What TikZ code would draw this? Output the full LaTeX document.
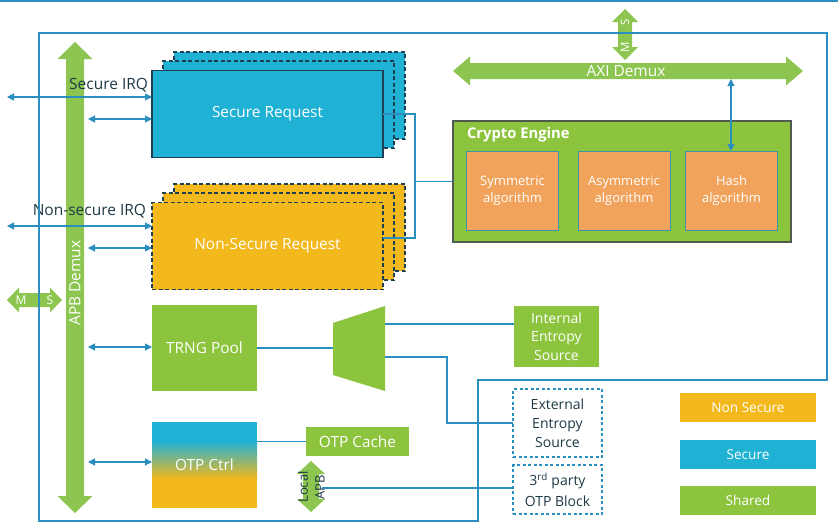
\documentclass[tikz,border=0pt]{standalone}
\usepackage{fontspec}
\setmainfont{Open Sans}
\usetikzlibrary{arrows.meta,calc}
\definecolor{sblue}{HTML}{1FB2D5}
\definecolor{nsorange}{HTML}{F3B81C}
\definecolor{shgreen}{HTML}{8DC43E}
\definecolor{argreen}{HTML}{8CC650}
\definecolor{lblue}{HTML}{2A8EBF}
\definecolor{algo}{HTML}{F2A35B}
\definecolor{darkb}{HTML}{1C3F52}
\definecolor{cebord}{HTML}{505A50}
\definecolor{algob}{HTML}{3F95A8}
\definecolor{txtd}{HTML}{1E3945}
\newcommand\myfatH[6]{\fill[argreen] (#1,#3) -- ({#1+#6},{#3-#5}) -- ({#1+#6},{#3-#4}) -- ({#2-#6},{#3-#4}) -- ({#2-#6},{#3-#5}) -- (#2,#3) -- ({#2-#6},{#3+#5}) -- ({#2-#6},{#3+#4}) -- ({#1+#6},{#3+#4}) -- ({#1+#6},{#3+#5}) -- cycle;}
\newcommand\myfatV[6]{\fill[argreen] (#3,#1) -- ({#3-#5},{#1+#6}) -- ({#3-#4},{#1+#6}) -- ({#3-#4},{#2-#6}) -- ({#3-#5},{#2-#6}) -- (#3,#2) -- ({#3+#5},{#2-#6}) -- ({#3+#4},{#2-#6}) -- ({#3+#4},{#1+#6}) -- ({#3+#5},{#1+#6}) -- cycle;}
\begin{document}
\begin{tikzpicture}[x=1pt,y=-1pt,
  every node/.style={inner sep=0pt, outer sep=0pt},
  lbl/.style={text=white, align=center, font=\fontsize{15.4}{18}\selectfont},
  wire/.style={draw=lblue, line width=1.1pt},
  biarrow/.style={wire, {Triangle[length=7pt,width=7pt]}-{Triangle[length=7pt,width=7pt]}},
  reqbox/.style={minimum width=231pt, minimum height=87pt, draw=darkb, line width=1.2pt},
  backbox/.style={reqbox, dash pattern=on 4pt off 2.5pt},
  greenbox/.style={fill=shgreen, lbl},
  algobox/.style={fill=algo, draw=algob, line width=1pt, minimum width=92pt, minimum height=79pt, lbl, font=\fontsize{13}{17}\selectfont},
  extbox/.style={draw=lblue, line width=1.1pt, dash pattern=on 3pt off 2.5pt, minimum width=89pt, align=center, text=txtd, font=\fontsize{14}{19}\selectfont},
  legbox/.style={minimum width=136pt, minimum height=29pt, lbl, font=\fontsize{13.6}{16}\selectfont},
  dtxt/.style={text=txtd, font=\fontsize{15.5}{18}\selectfont}
]
\useasboundingbox (0,0) rectangle (838,525);
\draw[lblue, line width=1.2pt] (0,1) -- (838,1);

% fat bus arrows
\myfatV{42}{513}{75}{9}{17.5}{17}
\node[lbl, rotate=90] (apb) at (75,283) {APB Demux};
\myfatH{453}{803}{71}{8}{14.5}{17}
\node[lbl] (axi) at (626,71) {AXI Demux};
\myfatH{7}{62}{300}{7}{12.5}{12}
\node[text=white, font=\fontsize{12}{14}\selectfont] (lm) at (21,300) {M};
\node[text=white, font=\fontsize{12}{14}\selectfont] (ls) at (50,300) {S};
\myfatV{9}{60}{625}{7}{13}{13}
\node[text=white, rotate=90, font=\fontsize{11.5}{13}\selectfont] (tm) at (625,47) {M};
\node[text=white, rotate=90, font=\fontsize{11.5}{13}\selectfont] (ts) at (625,22) {S};
\myfatV{461}{512}{311}{8}{14}{13}
\node[dtxt, rotate=90, font=\fontsize{13}{15}\selectfont] (loc) at (303,487) {Local};
\node[dtxt, rotate=90, font=\fontsize{13}{15}\selectfont] (lapbt) at (320,487) {APB};

% request stacks
\node[backbox, fill=sblue] (sr3) at (289.5,95.5) {};
\node[backbox, fill=sblue] (sr2) at (278.5,104.5) {};
\node[reqbox, fill=sblue, lbl] (sr) at (267.5,114) {Secure Request};
\node[backbox, fill=nsorange] (ns3) at (289.5,227.5) {};
\node[backbox, fill=nsorange] (ns2) at (278.5,236.5) {};
\node[backbox, fill=nsorange, lbl] (ns) at (267.5,246) {Non-Secure Request};

% crypto engine
\node[fill=shgreen, draw=cebord, line width=1.5pt, minimum width=338pt, minimum height=121pt] (ce) at (622,181.5) {};
\node[anchor=west, text=white, font=\bfseries\fontsize{14.8}{17}\selectfont] (cet) at (467,135) {Crypto Engine};
\node[algobox] (sym) at (512.5,190.5) {Symmetric\\algorithm};
\node[algobox] (asym) at (624,190.5) {Asymmetric\\algorithm};
\node[algobox] (hash) at (731.5,190.5) {Hash\\algorithm};

% TRNG, OTP
\node[greenbox, minimum width=105pt, minimum height=86pt] (trng) at (204.5,348) {TRNG Pool};
\fill[sblue] (152,422) rectangle (257,441);
\shade[top color=sblue, bottom color=nsorange] (152,441) rectangle (257,479);
\fill[nsorange] (152,479) rectangle (257,508);
\node[lbl, minimum width=105pt, minimum height=86pt] (otp) at (204.5,465) {OTP Ctrl};
\node[greenbox, minimum width=103pt, minimum height=29pt] (cache) at (357.5,441.5) {OTP Cache};
\fill[shgreen] (333,323) -- (385,306) -- (385,391) -- (333,375) -- cycle;
\coordinate (muxin) at (333,348);
\coordinate (muxo1) at (385,324);
\coordinate (muxo2) at (385,357);
\node[greenbox, minimum width=85pt, minimum height=61pt, font=\fontsize{14}{18.5}\selectfont] (ie) at (556.5,336.5) {Internal\\Entropy\\Source};
\node[extbox, minimum height=68pt] (ee) at (557.5,423) {External\\Entropy\\Source};
\node[extbox, minimum height=49pt, font=\fontsize{14}{21}\selectfont] (tp) at (557.5,489.5) {3\textsuperscript{rd} party\\OTP Block};

% legend
\node[legbox, fill=nsorange] (lg1) at (748,407.5) {Non Secure};
\node[legbox, fill=sblue] (lg2) at (748,454.5) {Secure};
\node[legbox, fill=shgreen] (lg3) at (748,500.5) {Shared};

% IRQ labels
\node[dtxt, anchor=east] (sirq) at (148,85) {Secure IRQ};
\node[dtxt, anchor=east] (nirq) at (146,211) {Non-secure IRQ};

% connectors
\coordinate (a1) at (7,97);
\coordinate (a2) at (88,119);
\coordinate (a3) at (7,226);
\coordinate (a4) at (88,248);
\coordinate (a5) at (88,347);
\coordinate (a6) at (88,462);
\draw[biarrow] (a1) -- (a1 -| sr.west);
\draw[biarrow] (a2) -- (a2 -| sr.west);
\draw[biarrow] (a3) -- (a3 -| ns.west);
\draw[biarrow] (a4) -- (a4 -| ns.west);
\draw[biarrow] (a5) -- (a5 -| trng.west);
\draw[biarrow] (a6) -- (a6 -| otp.west);
\coordinate (axib) at (731,79);
\draw[biarrow] (axib) -- (axib |- hash.north);
\coordinate (jn) at (415,181.5);
\draw[wire] (sr.east) -| (jn) |- ($(ns.east)+(0,-8)$);
\draw[wire] (jn) -- (ce.west);
\draw[wire] (trng.east) -- (muxin);
\draw[wire] (muxo1) -- (muxo1 -| ie.west);
\draw[wire] (muxo2) -| (447,423) -- (ee.west);
\draw[wire] (otp.east |- cache.west) -- (cache.west);
\coordinate (lapb) at (322,488);
\draw[wire] (lapb) -- (lapb -| tp.west);

% outline
\draw[wire] (39,33) -- (827,33) -- (827,380) -- (478,380) -- (478,521) -- (39,521) -- cycle;
\end{tikzpicture}
\end{document}
